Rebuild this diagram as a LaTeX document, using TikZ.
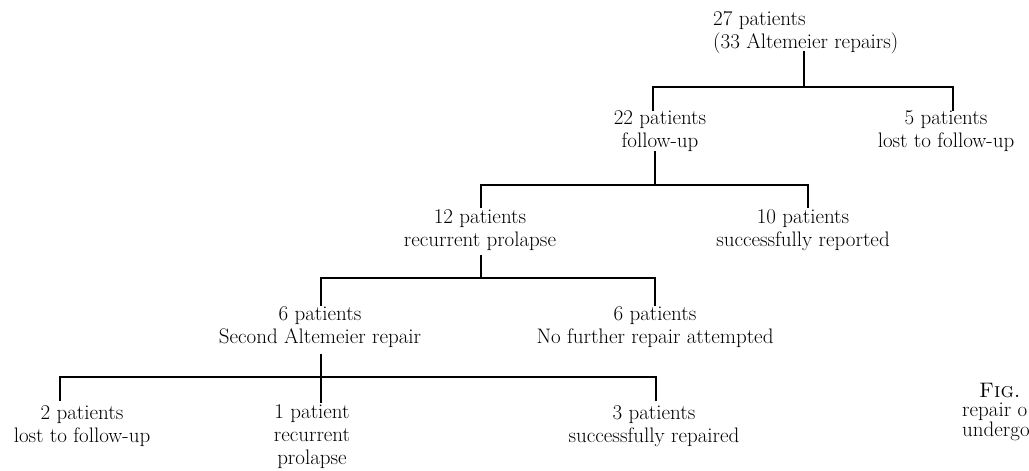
\documentclass[tikz,border=0pt]{standalone}
\begin{document}
\begin{tikzpicture}[x=1pt,y=-1pt,
  lbl/.style={inner sep=0pt, align=center, anchor=base, font=\fontsize{21}{23}\selectfont},
  captext/.style={inner sep=0pt, align=left, anchor=base west, font=\fontsize{21}{19.5}\selectfont},
  con/.style={line width=1.6pt, line join=miter, line cap=rect}]
\useasboundingbox (0,0) rectangle (1029,471);

% nodes (anchor base = baseline of the last line)
\node[lbl, align=left, anchor=base west] (T) at (713,48) {27 patients\\(33 Altemeier repairs)};
\node[lbl] (N22) at (660,147) {22 patients\\follow-up};
\node[lbl] (N5) at (946,147) {5 patients\\lost to follow-up};
\node[lbl] (N12) at (480,246) {12 patients\\recurrent prolapse};
\node[lbl] (N10) at (803,246) {10 patients\\successfully reported};
\node[lbl] (N6a) at (320,343) {6 patients\\Second Altemeier repair};
\node[lbl] (N6b) at (655,343) {6 patients\\No further repair attempted};
\node[lbl] (N2) at (82,442) {2 patients\\lost to follow-up};
\node[lbl] (N1) at (312,464) {1 patient\\recurrent\\prolapse};
\node[lbl] (N3) at (654,442) {3 patients\\successfully repaired};
\node[captext] (C) at (962,436) {\hspace*{17pt}\textsc{Fig.}\\repair o\\undergo};

% connector coordinates
\coordinate (t0) at (804,52);  \coordinate (t1) at (804,87);
\coordinate (c22) at (653,110); \coordinate (c5) at (953,110);
\coordinate (u0) at (655,152); \coordinate (u1) at (655,185);
\coordinate (c12) at (481,207); \coordinate (c10) at (808,207);
\coordinate (v0) at (481,256); \coordinate (v1) at (481,278);
\coordinate (c6a) at (321,305); \coordinate (c6b) at (655,305);
\coordinate (w0) at (321,355); \coordinate (w1) at (321,377);
\coordinate (c2) at (60,400); \coordinate (c1) at (321,402); \coordinate (c3) at (656,400);

% connectors
\draw[con] (t0) -- (t1);
\draw[con] (c22) |- (t1) -| (c5);
\draw[con] (u0) -- (u1);
\draw[con] (c12) |- (u1) -| (c10);
\draw[con] (v0) -- (v1);
\draw[con] (c6a) |- (v1) -| (c6b);
\draw[con] (w0) -- (c1);
\draw[con] (c2) |- (w1) -| (c3);
\end{tikzpicture}
\end{document}
